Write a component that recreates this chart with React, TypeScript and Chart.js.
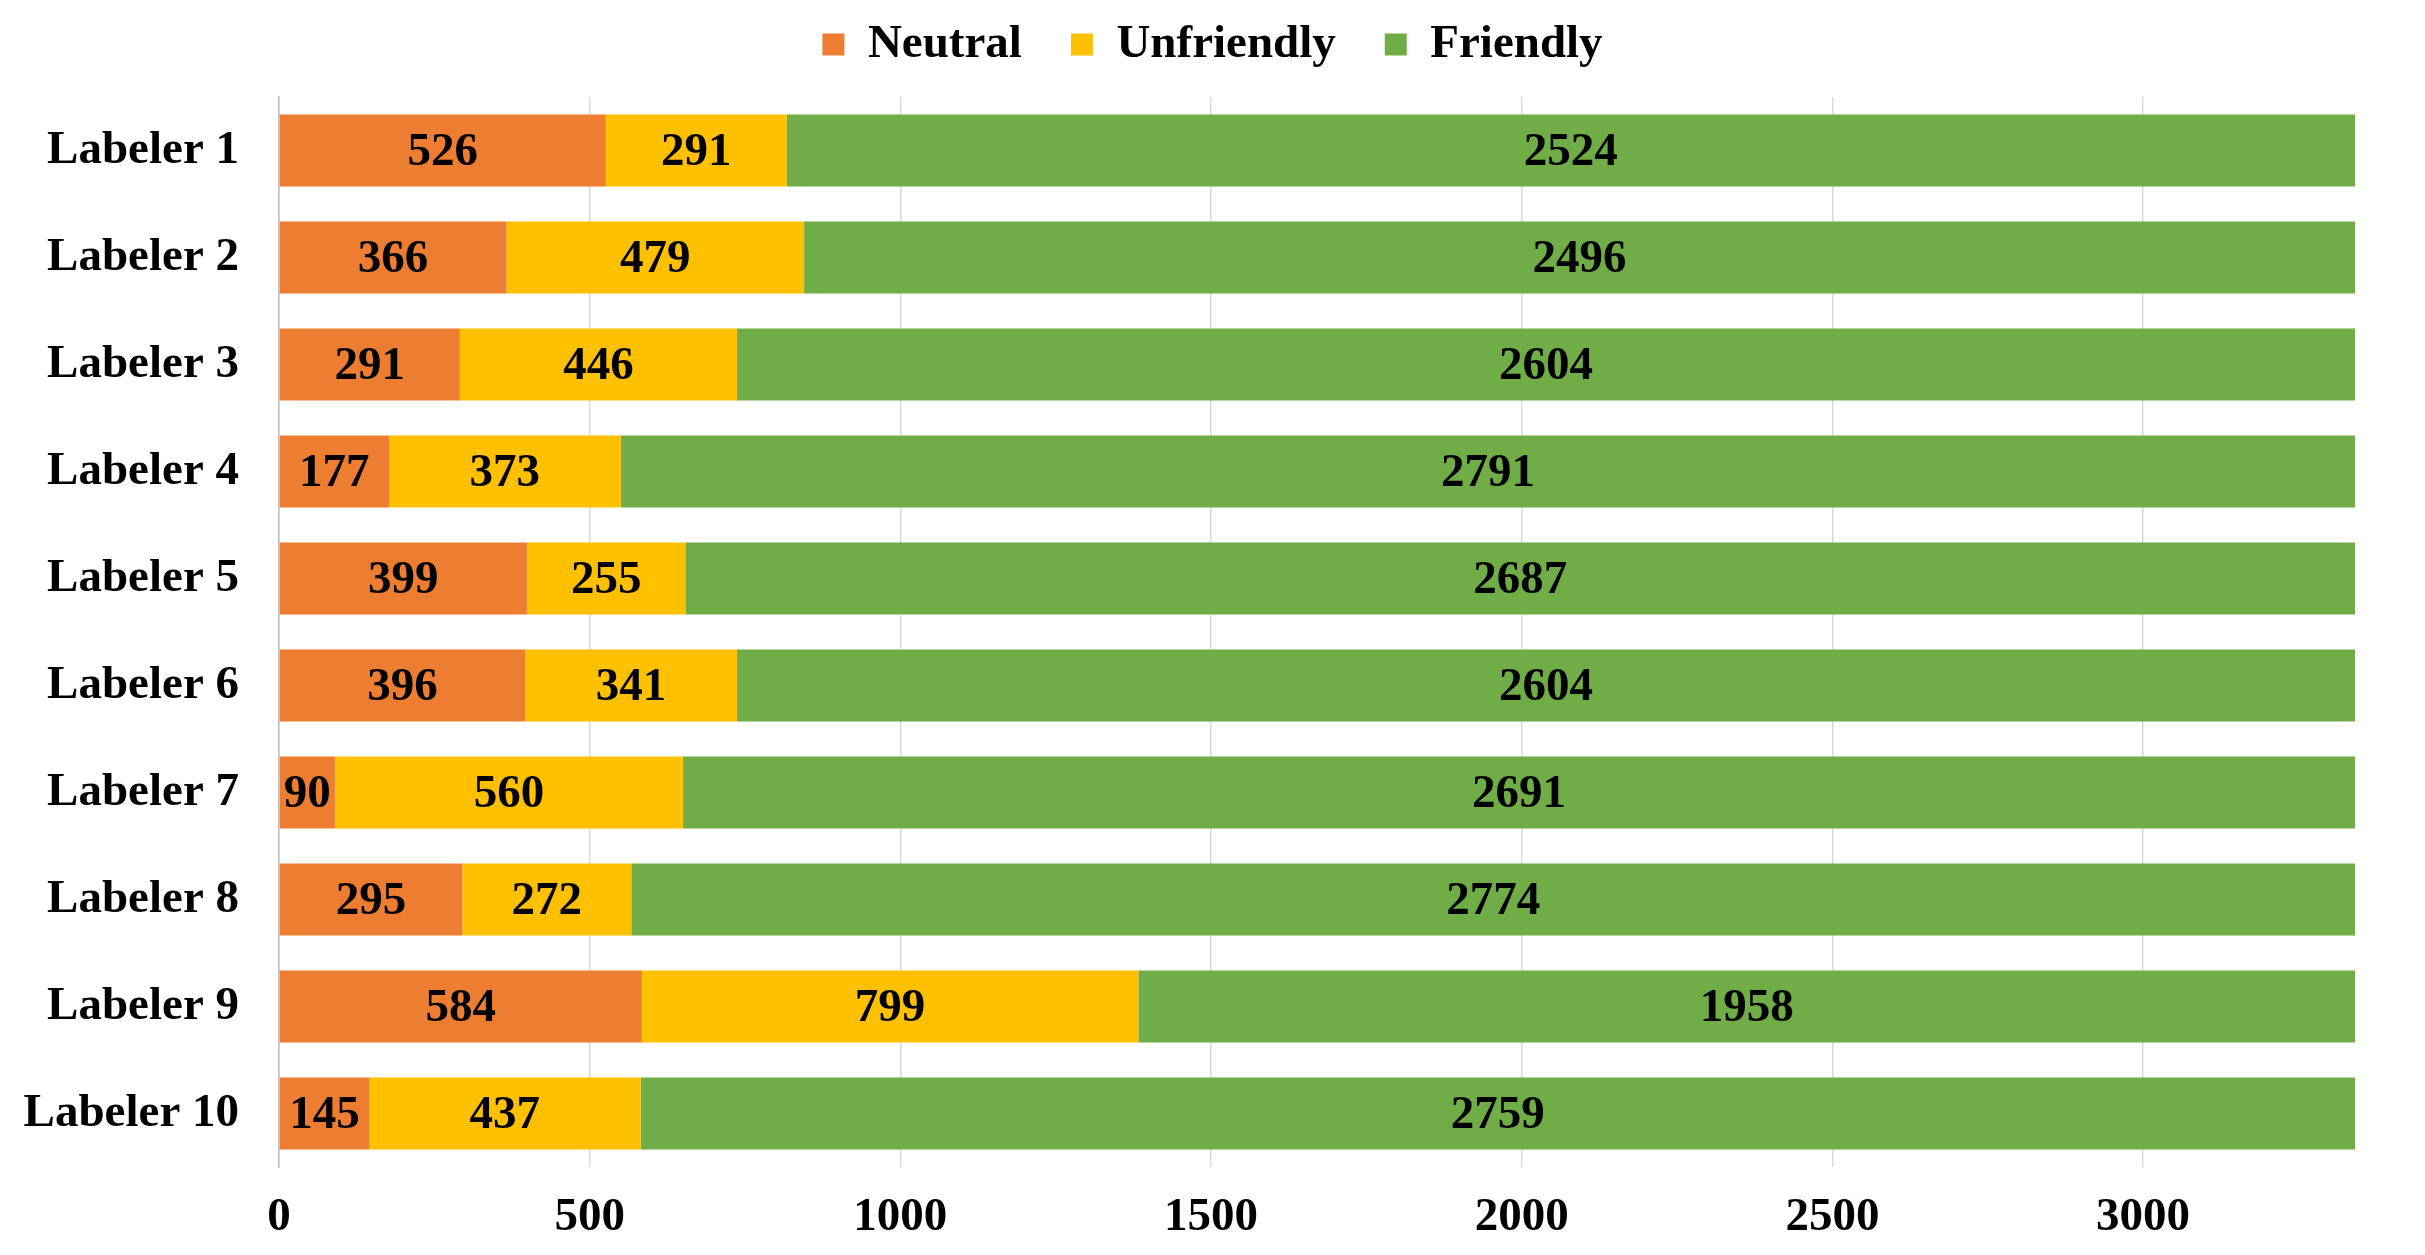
import React, { useEffect, useRef } from "react";
import { Chart, registerables } from "chart.js";

Chart.register(...registerables);

const categories = [
  "Labeler 1",
  "Labeler 2",
  "Labeler 3",
  "Labeler 4",
  "Labeler 5",
  "Labeler 6",
  "Labeler 7",
  "Labeler 8",
  "Labeler 9",
  "Labeler 10",
];
const neutral = [526, 366, 291, 177, 399, 396, 90, 295, 584, 145];
const unfriendly = [291, 479, 446, 373, 255, 341, 560, 272, 799, 437];
const friendly = [2524, 2496, 2604, 2791, 2687, 2604, 2691, 2774, 1958, 2759];
const seriesNames = ["Neutral", "Unfriendly", "Friendly"];
const seriesColors = ["#ED7D31", "#FFC000", "#70AD47"];
const xTickValues = [0, 500, 1000, 1500, 2000, 2500, 3000];

const FONT_FAMILY = "'Liberation Serif', 'Times New Roman', serif";
const FONT_SIZE = 47;

const valueLabels = {
  id: "valueLabels",
  afterDatasetsDraw(chart: any) {
    const ctx = chart.ctx;
    ctx.save();
    ctx.font = `bold ${FONT_SIZE}px ${FONT_FAMILY}`;
    ctx.fillStyle = "#000000";
    ctx.textAlign = "center";
    ctx.textBaseline = "middle";
    chart.data.datasets.forEach((ds: any, i: number) => {
      const meta = chart.getDatasetMeta(i);
      meta.data.forEach((el: any, j: number) => {
        const p = el.getProps(["x", "y", "base"], true);
        ctx.fillText(String(ds.data[j]), (p.x + p.base) / 2, p.y + 2);
      });
    });
    ctx.restore();
  },
};

const legendSpacing = {
  id: "legendSpacing",
  beforeLayout(chart: any) {
    const legend = chart.legend;
    if (legend && !legend._extraSpace) {
      const fit = legend.fit;
      legend.fit = function () {
        fit.call(this);
        this.height += 19;
      };
      legend._extraSpace = true;
    }
  },
  afterLayout(chart: any) {
    const legend = chart.legend;
    if (legend) {
      legend.left = 0;
      legend.right = chart.width;
      legend.width = chart.width;
    }
  },
};

export default function App() {
  const canvasRef = useRef<HTMLCanvasElement | null>(null);

  useEffect(() => {
    if (!canvasRef.current) return;
    const totals = categories.map((_, i) => neutral[i] + unfriendly[i] + friendly[i]);
    const xMax = Math.max(...totals);
    const font = { family: FONT_FAMILY, size: FONT_SIZE, weight: "bold" as const };
    const values = [neutral, unfriendly, friendly];

    const chart = new Chart(canvasRef.current, {
      type: "bar",
      data: {
        labels: categories,
        datasets: seriesNames.map((name, k) => ({
          label: name,
          data: values[k],
          backgroundColor: seriesColors[k],
          borderWidth: 0,
          barPercentage: 0.673,
          categoryPercentage: 1,
        })),
      },
      options: {
        animation: false,
        responsive: false,
        maintainAspectRatio: false,
        devicePixelRatio: 1,
        indexAxis: "y",
        layout: { padding: { top: -28, right: 70, bottom: 0, left: 0 } },
        plugins: {
          legend: {
            position: "top",
            labels: {
              boxWidth: 22,
              boxHeight: 22,
              padding: 49,
              color: "#000000",
              font,
            },
          },
          tooltip: { enabled: false },
        },
        scales: {
          x: {
            stacked: true,
            min: 0,
            max: xMax,
            afterBuildTicks(scale: any) {
              scale.ticks = xTickValues.map((v) => ({ value: v }));
            },
            afterFit(scale: any) {
              scale.height = 88;
            },
            ticks: {
              padding: 23,
              color: "#000000",
              font,
              callback: (v: any) => String(v),
            },
            grid: { color: "#d9d9d9", lineWidth: 1.5, drawTicks: false },
            border: { display: false },
          },
          y: {
            stacked: true,
            grid: { display: false, drawTicks: false },
            border: { display: true, color: "#bfbfbf", width: 1.5 },
            ticks: { padding: 40, color: "#000000", font },
            afterFit(scale: any) {
              scale.width = 279;
            },
          },
        },
      },
      plugins: [valueLabels, legendSpacing],
    });
    return () => chart.destroy();
  }, []);

  return (
    <div style={{ position: "fixed", left: 0, top: 0, width: "2425px", height: "1255px", background: "#ffffff" }}>
      <canvas ref={canvasRef} width={2425} height={1255} style={{ display: "block", width: "2425px", height: "1255px" }} />
    </div>
  );
}
